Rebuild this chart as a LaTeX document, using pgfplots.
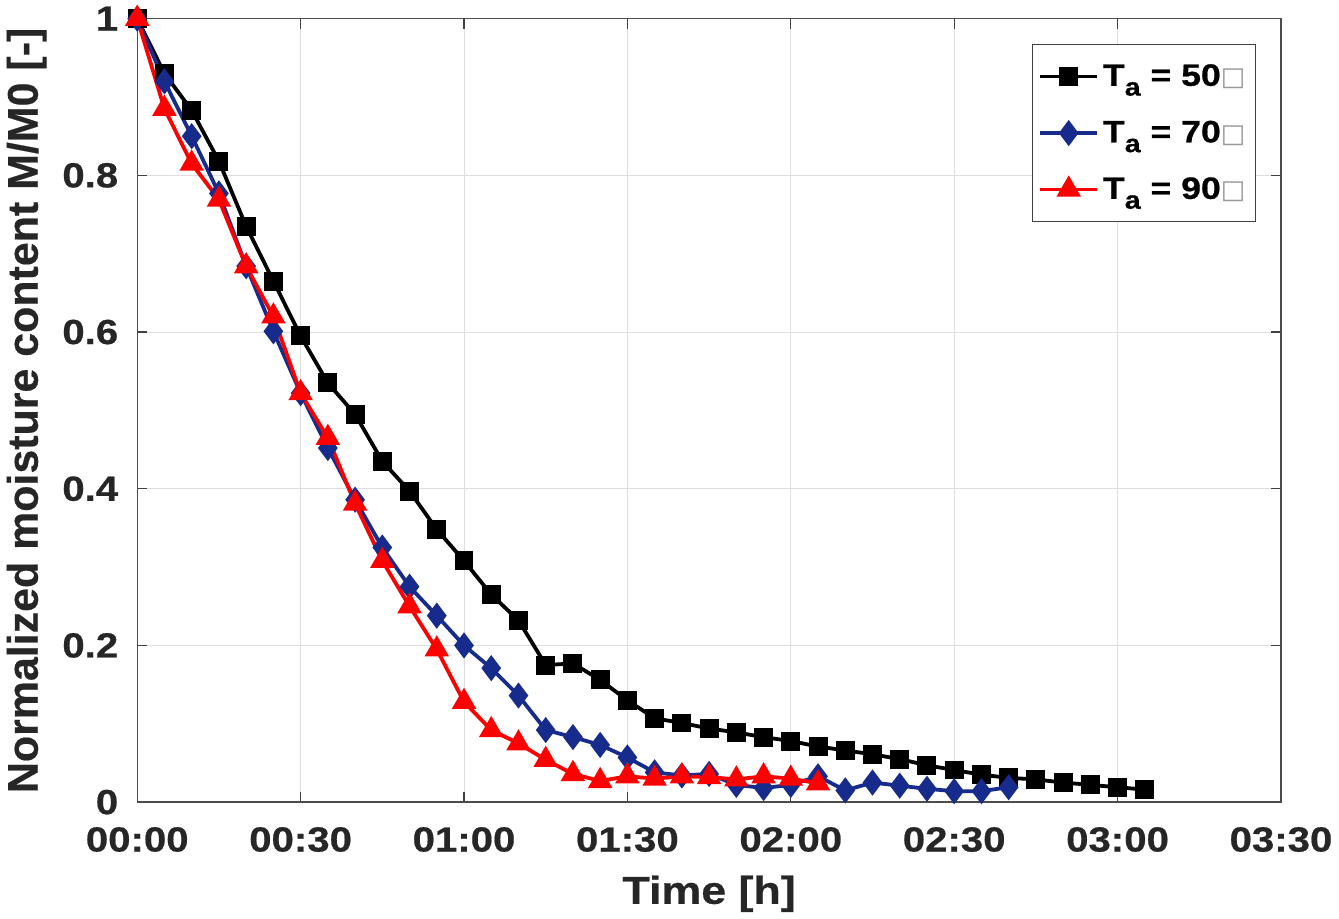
\documentclass[border=0pt]{standalone}
\usepackage{pgfplots}
\usepackage{pgfplotstable}
\pgfplotsset{compat=1.18}
\usepackage{fontspec}
\setmainfont{Liberation Sans}[BoldFeatures={FakeBold=0.4}]
\newfontfamily\widefont{Liberation Sans}[FakeStretch=1.15, BoldFeatures={FakeBold=0.6}]
\newfontfamily\symfont{DejaVu Sans}

\definecolor{mblue}{RGB}{22,43,140}
\definecolor{mred}{RGB}{255,0,0}
\definecolor{mtext}{RGB}{38,38,38}

% time in minutes, normalized moisture content
\pgfplotstableread{
t m
0 1.000
5 0.930
10 0.883
15 0.818
20 0.735
25 0.665
30 0.595
35 0.535
40 0.495
45 0.435
50 0.397
55 0.348
60 0.308
65 0.265
70 0.232
75 0.175
80 0.177
85 0.156
90 0.130
95 0.107
100 0.101
105 0.094
110 0.089
115 0.083
120 0.078
125 0.071
130 0.066
135 0.061
140 0.055
145 0.047
150 0.041
155 0.035
160 0.031
165 0.029
170 0.025
175 0.022
180 0.019
185 0.016
}\tfifty

\pgfplotstableread{
t m
0 1.000
5 0.920
10 0.850
15 0.777
20 0.684
25 0.601
30 0.522
35 0.452
40 0.386
45 0.325
50 0.275
55 0.238
60 0.200
65 0.171
70 0.136
75 0.092
80 0.083
85 0.073
90 0.057
95 0.038
100 0.034
105 0.036
110 0.022
115 0.018
120 0.022
125 0.033
130 0.015
135 0.025
140 0.021
145 0.017
150 0.014
155 0.014
160 0.019
}\tseventy

\pgfplotstableread{
t m
0 1.000
5 0.885
10 0.815
15 0.769
20 0.684
25 0.620
30 0.522
35 0.465
40 0.381
45 0.308
50 0.250
55 0.195
60 0.128
65 0.092
70 0.075
75 0.054
80 0.036
85 0.027
90 0.033
95 0.030
100 0.033
105 0.032
110 0.029
115 0.033
120 0.030
125 0.024
}\tninety

\newcommand{\leg}[1]{T\raisebox{-0.6ex}{\fontsize{12.5}{12.5}\selectfont a}\ = #1{\symfont\mdseries\color{black!40}\fontsize{13}{13}\selectfont □}}

\begin{document}
\begin{tikzpicture}
\begin{axis}[
    scale only axis,
    width=573pt, height=392.5pt,
    xmin=0, xmax=210, ymin=0, ymax=1,
    xtick={0,30,60,90,120,150,180,210},
    xticklabels={00:00,00:30,01:00,01:30,02:00,02:30,03:00,03:30},
    ytick={0,0.2,0.4,0.6,0.8,1},
    yticklabels={0,0.2,0.4,0.6,0.8,1},
    tick align=inside,
    major tick length=5pt,
    tick style={black!75, line width=0.6pt},
    axis line style={black!70, line width=0.7pt},
    grid=major,
    grid style={black!13, line width=0.5pt},
    ticklabel style={font=\widefont\bfseries\fontsize{17.5}{17.5}\selectfont, text=mtext},
    xticklabel style={yshift=-9pt},
    yticklabel style={xshift=-6pt},
    /pgf/number format/assume math mode=true,
    xlabel={Time [h]},
    ylabel={Normalized moisture content M/M0 [-]},
    xlabel style={font=\widefont\bfseries\fontsize{19.5}{19.5}\selectfont, text=mtext, yshift=-5pt},
    ylabel style={font=\bfseries\fontsize{21.5}{21.5}\selectfont, text=mtext, yshift=1pt},
    legend cell align=left,
    legend style={at={(0.978,0.968)}, anchor=north east,
        draw=black!75, line width=0.5pt,
        font=\widefont\bfseries\fontsize{15.5}{15.5}\selectfont,
        row sep=12pt, inner xsep=3pt, inner ysep=8pt},
    legend image code/.code={\draw[mark repeat=2,mark phase=2]
        plot coordinates {(0cm,0cm) (0.5cm,0cm) (1cm,0cm)};},
]
\addplot[black, line width=1.9pt, mark=square*, mark size=3.8pt] table[x=t,y=m] {\tfifty};
\addlegendentry{\leg{50}}
\addplot[mblue, line width=1.9pt, mark=diamond*, mark size=5pt] table[x=t,y=m] {\tseventy};
\addlegendentry{\leg{70}}
\addplot[mred, line width=1.9pt, mark=triangle*, mark size=5.2pt] table[x=t,y=m] {\tninety};
\addlegendentry{\leg{90}}
\end{axis}
\end{tikzpicture}
\end{document}
